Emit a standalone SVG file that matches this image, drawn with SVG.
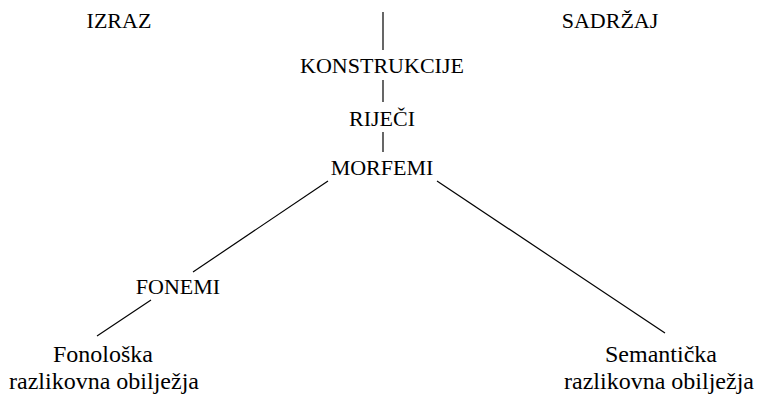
<svg xmlns="http://www.w3.org/2000/svg" width="757" height="395" viewBox="0 0 757 395">
<style>
.t{font-family:'Liberation Serif','DejaVu Serif',serif;font-size:22px;fill:#000;text-anchor:middle}
.b{font-size:24px}
line{stroke:#000;stroke-width:1.2}
</style>
<rect width="757" height="395" fill="#fff"/>
<g id="connectors">
<line x1="383" y1="12" x2="383" y2="50"/>
<line x1="383" y1="80" x2="383" y2="102"/>
<line x1="383" y1="132" x2="383" y2="152"/>
<line x1="328" y1="181" x2="193" y2="272"/>
<line x1="151" y1="300" x2="97" y2="336"/>
<line x1="437" y1="181" x2="665" y2="333"/>
</g>
<g id="izraz"><text class="t" x="119" y="28">IZRAZ</text></g>
<g id="sadrzaj"><text class="t" x="610" y="28">SADRŽAJ</text></g>
<g id="konstrukcije"><text class="t" x="382" y="73">KONSTRUKCIJE</text></g>
<g id="rijeci"><text class="t" x="382" y="126">RIJEČI</text></g>
<g id="morfemi"><text class="t" x="382" y="175">MORFEMI</text></g>
<g id="fonemi"><text class="t" x="178" y="294">FONEMI</text></g>
<g id="fonoloska"><text class="t b" x="103" y="362">Fonološka</text><text class="t b" x="104" y="389">razlikovna obilježja</text></g>
<g id="semanticka"><text class="t b" x="661" y="362">Semantička</text><text class="t b" x="659" y="389">razlikovna obilježja</text></g>
</svg>
